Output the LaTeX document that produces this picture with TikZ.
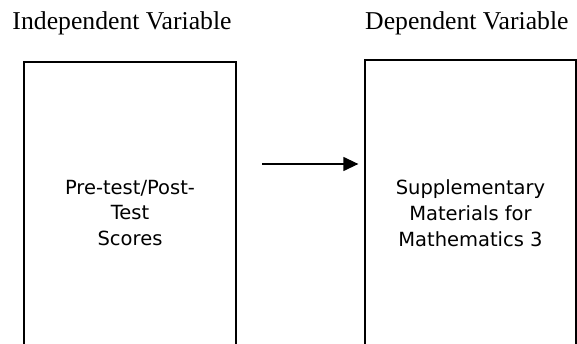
\documentclass[tikz,border=0pt]{standalone}
\usepackage{fontspec}
\setmainfont{Liberation Serif}
\newfontfamily\boxfont{DejaVu Sans}
\usetikzlibrary{arrows.meta}

\tikzset{
  heading/.style={anchor=base west, inner sep=0pt, font=\fontsize{25.7}{30}\selectfont},
  varbox/.style={draw, line width=1.3pt, rectangle, inner sep=0pt, align=center,
    font=\boxfont\fontsize{19.5}{25.8}\selectfont},
  link/.style={line width=1.3pt, -{Triangle[length=15pt,width=14pt]}, shorten >=6pt}
}

\begin{document}
\begin{tikzpicture}[x=1pt, y=-1pt]
  \useasboundingbox (0,0) rectangle (577,344);
  \clip (0,0) rectangle (577,344);

  % column headings
  \node[heading] (indep) at (12.3,29.3) {Independent Variable};
  \node[heading] (dep) at (365,29.3) {Dependent Variable};

  % variable boxes (running past the lower edge)
  \node[varbox, minimum width=212pt, minimum height=302pt] (ivbox) at (130,213)
    {Pre-test/Post-\\Test\\Scores};
  \node[varbox, minimum width=211pt, minimum height=306pt] (dvbox) at (470.5,213)
    {Supplementary\\Materials for\\Mathematics 3};

  % relation arrow
  \coordinate (from) at (262,164);
  \draw[link] (from) -- (dvbox.west |- from);
\end{tikzpicture}
\end{document}
